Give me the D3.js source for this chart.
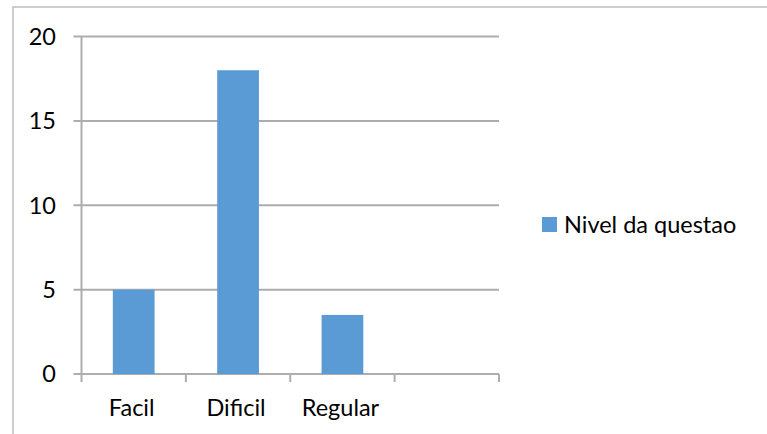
<!DOCTYPE html>
<html>
<head>
<meta charset="utf-8">
<script src="https://cdn.jsdelivr.net/npm/d3@7"></script>
<style>
  html, body { margin: 0; padding: 0; background: #fff; }
  svg { display: block; }
  text { font-family: Lato, "Open Sans", sans-serif; fill: #000; }
</style>
</head>
<body>
<svg id="chart" width="767" height="434"></svg>
<script>
// Question difficulty counts
const categories = ["Facil", "Dificil", "Regular", ""];
const values = [5, 18, 3.5, null];
const yTicks = [0, 5, 10, 15, 20];
const seriesName = "Nivel da questao";

const W = 767, H = 434;
const plot = { left: 81.5, right: 499, top: 36.5, bottom: 374 };
const barColor = "#5B9BD5";
const gridColor = "#ADADAD";
const fontSize = 23.5;

const svg = d3.select("#chart");

// outer chart frame (continues past the visible window)
svg.append("rect")
  .attr("x", 13).attr("y", 7)
  .attr("width", W + 20).attr("height", H + 20)
  .attr("fill", "#fff")
  .attr("stroke", "#BDBDBD")
  .attr("stroke-width", 1.5);

const x = d3.scaleBand()
  .domain(categories.map((c, i) => i))
  .range([plot.left, plot.right])
  .padding(0);

const y = d3.scaleLinear()
  .domain([0, 20])
  .range([plot.bottom, plot.top]);

// horizontal gridlines with short ticks to the left of the axis
svg.append("g").selectAll("line")
  .data(yTicks)
  .join("line")
  .attr("x1", plot.left - 8)
  .attr("x2", plot.right)
  .attr("y1", d => y(d))
  .attr("y2", d => y(d))
  .attr("stroke", gridColor)
  .attr("stroke-width", 2);

// vertical axis line
svg.append("line")
  .attr("x1", plot.left).attr("x2", plot.left)
  .attr("y1", plot.top).attr("y2", plot.bottom)
  .attr("stroke", gridColor)
  .attr("stroke-width", 2);

// category boundary ticks below the baseline
const boundaries = categories.map((c, i) => x(i)).concat([plot.right]);
svg.append("g").selectAll("line")
  .data(boundaries)
  .join("line")
  .attr("x1", d => d).attr("x2", d => d)
  .attr("y1", plot.bottom)
  .attr("y2", plot.bottom + 8)
  .attr("stroke", gridColor)
  .attr("stroke-width", 2);

// bars
const barFrac = 0.4;
svg.append("g").selectAll("rect")
  .data(values.map((v, i) => ({ v, i })).filter(d => d.v != null))
  .join("rect")
  .attr("x", d => x(d.i) + x.bandwidth() * (1 - barFrac) / 2)
  .attr("width", x.bandwidth() * barFrac)
  .attr("y", d => y(d.v))
  .attr("height", d => y(0) - y(d.v))
  .attr("fill", barColor);

// y tick labels
svg.append("g").selectAll("text")
  .data(yTicks)
  .join("text")
  .attr("x", 56)
  .attr("y", d => y(d))
  .attr("dy", "0.36em")
  .attr("text-anchor", "end")
  .attr("font-size", fontSize)
  .text(d => d);

// category labels
svg.append("g").selectAll("text")
  .data(categories)
  .join("text")
  .attr("x", (c, i) => x(i) + x.bandwidth() / 2 - 2)
  .attr("y", 416)
  .attr("text-anchor", "middle")
  .attr("font-size", fontSize)
  .text(c => c);

// legend
const legend = svg.append("g").attr("transform", "translate(542,217)");
legend.append("rect")
  .attr("width", 15).attr("height", 15)
  .attr("fill", barColor);
legend.append("text")
  .attr("x", 22)
  .attr("y", 7.5)
  .attr("dy", "0.36em")
  .attr("font-size", fontSize)
  .text(seriesName);
</script>
</body>
</html>
